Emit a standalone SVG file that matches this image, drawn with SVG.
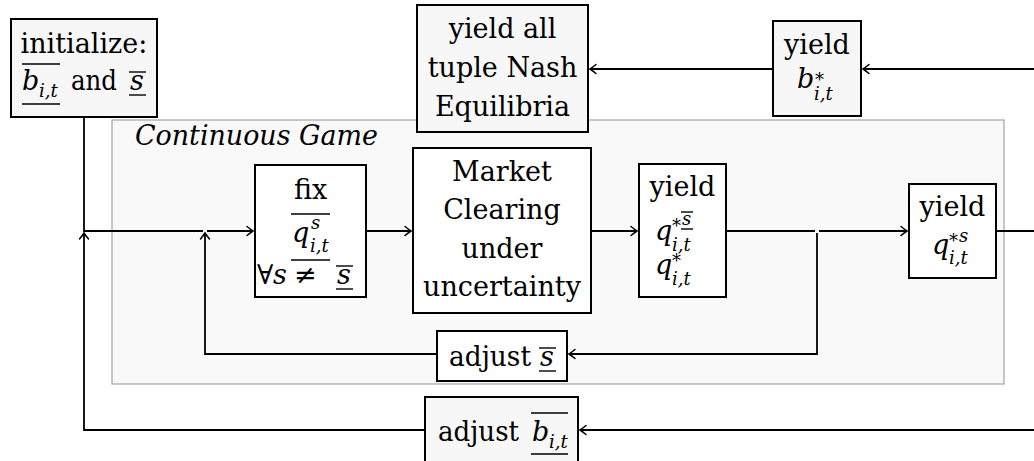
<svg xmlns="http://www.w3.org/2000/svg" width="1034" height="461" viewBox="0 0 1034 461">
  <defs>
    <style>
      .t { font-size: 27px; fill: #000; }
      .c { text-anchor: middle; }
      .m { font-style: italic; }
      .sub { font-size: 18px; font-style: italic; fill: #000; }
      .box { stroke: #000; stroke-width: 2; }
      .lite { fill: #f7f7f7; }
      .white { fill: #ffffff; }
      .bar { stroke: #000; stroke-width: 1.4; }
      .conn { fill: none; stroke: #000; stroke-width: 1.8; }
    </style>
    <marker id="arr" viewBox="-8 -6 10 12" markerWidth="10" markerHeight="12" refX="0" refY="0" orient="auto" markerUnits="userSpaceOnUse">
      <path d="M-6,-4.5 Q-2,-1.2 0,0 Q-2,1.2 -6,4.5" fill="none" stroke="#000" stroke-width="1.5" stroke-linecap="round"/>
    </marker>
  </defs>

  <rect width="1034" height="461" fill="#ffffff"/>

  <g font-family="'DejaVu Serif', serif">

  <g id="continuous-game">
    <rect x="112" y="120" width="892" height="264" fill="#f9f9f9" stroke="#aaaaaa" stroke-width="1.3"/>
    <text class="t m" x="135" y="145" textLength="243" lengthAdjust="spacingAndGlyphs">Continuous Game</text>
  </g>

  <g id="connectors">
    <path class="conn" d="M84,117 V231 H203"/>
    <path class="conn" d="M207,231 H253" marker-end="url(#arr)"/>
    <path class="conn" d="M366,231 H411" marker-end="url(#arr)"/>
    <path class="conn" d="M591,231 H637" marker-end="url(#arr)"/>
    <path class="conn" d="M726,231 H815"/>
    <path class="conn" d="M819,231 H907" marker-end="url(#arr)"/>
    <path class="conn" d="M817,233 V354 H569" marker-end="url(#arr)"/>
    <path class="conn" d="M437,354 H205 V233" marker-end="url(#arr)"/>
    <path class="conn" d="M996,231 H1034"/>
    <path class="conn" d="M1034,430 H580" marker-end="url(#arr)"/>
    <path class="conn" d="M425,430 H84 V233" marker-end="url(#arr)"/>
    <path class="conn" d="M1034,69 H863" marker-end="url(#arr)"/>
    <path class="conn" d="M773,69 H590" marker-end="url(#arr)"/>
  </g>

  <g id="initialize">
    <rect class="box lite" x="11" y="19" width="146" height="98"/>
    <text class="t c" x="84" y="53">initialize:</text>
    <text class="t m" x="22" y="90">b</text>
    <text class="sub" x="39" y="97">i,t</text>
    <line class="bar" x1="22" y1="64" x2="60" y2="64"/>
    <line class="bar" x1="22" y1="104" x2="60" y2="104"/>
    <text class="t" x="71" y="90" textLength="46" lengthAdjust="spacingAndGlyphs">and</text>
    <text class="t m" x="130" y="90">s</text>
    <line class="bar" x1="129" y1="72" x2="146" y2="72"/>
    <line class="bar" x1="129" y1="95" x2="146" y2="95"/>
  </g>

  <g id="yield-all">
    <rect class="box lite" x="417" y="5" width="171" height="127"/>
    <text class="t c" x="502.5" y="38">yield all</text>
    <text class="t c" x="502.5" y="77">tuple Nash</text>
    <text class="t c" x="502.5" y="116">Equilibria</text>
  </g>

  <g id="yield-b">
    <rect class="box lite" x="773" y="21" width="88" height="95"/>
    <text class="t c" x="817" y="54">yield</text>
    <text class="t m" x="797" y="88">b</text>
    <text class="sub" x="815" y="86">*</text>
    <text class="sub" x="814" y="100">i,t</text>
  </g>

  <g id="fix">
    <rect class="box white" x="255" y="165" width="111" height="132"/>
    <text class="t c" x="310.5" y="199">fix</text>
    <line class="bar" x1="291" y1="214" x2="330" y2="214"/>
    <text class="t m" x="292" y="242">q</text>
    <text class="sub" x="311" y="229">s</text>
    <text class="sub" x="310" y="252">i,t</text>
    <line class="bar" x1="291" y1="260" x2="330" y2="260"/>
    <text class="t" x="257" y="284">∀</text>
    <text class="t m" x="273" y="284">s</text>
    <text class="t" x="294" y="284">≠</text>
    <text class="t m" x="337" y="284">s</text>
    <line class="bar" x1="336" y1="266" x2="353" y2="266"/>
    <line class="bar" x1="336" y1="289" x2="353" y2="289"/>
  </g>

  <g id="market-clearing">
    <rect class="box white" x="413" y="148" width="178" height="165"/>
    <text class="t c" x="502" y="181">Market</text>
    <text class="t c" x="502" y="219">Clearing</text>
    <text class="t c" x="502" y="258">under</text>
    <text class="t c" x="502" y="296">uncertainty</text>
  </g>

  <g id="yield-q">
    <rect class="box white" x="639" y="164" width="87" height="133"/>
    <text class="t c" x="682.5" y="196">yield</text>
    <text class="t m" x="655" y="240">q</text>
    <text class="sub" x="672" y="232">*</text>
    <text class="sub" x="682" y="225">s</text>
    <line class="bar" x1="681" y1="212" x2="693" y2="212"/>
    <line class="bar" x1="681" y1="229" x2="693" y2="229"/>
    <text class="sub" x="672" y="251">i,t</text>
    <text class="t m" x="655" y="274">q</text>
    <text class="sub" x="672" y="267">*</text>
    <text class="sub" x="672" y="285">i,t</text>
  </g>

  <g id="yield-qs">
    <rect class="box white" x="909" y="184" width="87" height="94"/>
    <text class="t c" x="952.5" y="216">yield</text>
    <text class="t m" x="932" y="254">q</text>
    <text class="sub" x="949" y="247">*</text>
    <text class="sub" x="959" y="242">s</text>
    <text class="sub" x="949" y="264">i,t</text>
  </g>

  <g id="adjust-s">
    <rect class="box white" x="437" y="331" width="130" height="50"/>
    <text class="t" x="449" y="366" textLength="82" lengthAdjust="spacingAndGlyphs">adjust</text>
    <text class="t m" x="540" y="366">s</text>
    <line class="bar" x1="539" y1="348" x2="556" y2="348"/>
    <line class="bar" x1="539" y1="371" x2="556" y2="371"/>
  </g>

  <g id="adjust-b">
    <rect class="box lite" x="425" y="397" width="153" height="80"/>
    <text class="t" x="438" y="441" textLength="81" lengthAdjust="spacingAndGlyphs">adjust</text>
    <text class="t m" x="532" y="441">b</text>
    <text class="sub" x="549" y="448">i,t</text>
    <line class="bar" x1="531" y1="413" x2="568" y2="413"/>
    <line class="bar" x1="531" y1="454" x2="568" y2="454"/>
  </g>

  </g>
</svg>
